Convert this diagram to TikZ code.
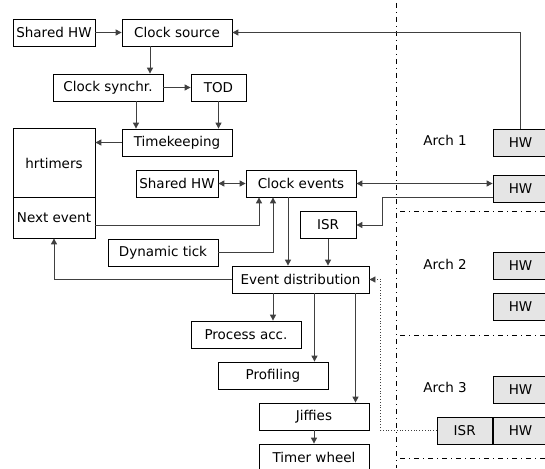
\documentclass[tikz,border=0pt]{standalone}
\usepackage{fontspec}
\setmainfont{DejaVu Sans}
\usetikzlibrary{arrows.meta}
\begin{document}
\begin{tikzpicture}[x=1pt,y=-1pt,>={Triangle[length=6pt,width=6pt]},
  box/.style={draw,line width=0.8pt,minimum height=27pt,inner sep=0pt,font=\fontsize{13.5}{16}\selectfont},
  hwbox/.style={box,fill=black!10,minimum width=55pt},
  con/.style={->,draw=black!75,line width=1pt},
  sep/.style={line width=0.7pt,dash pattern=on 5pt off 4pt on 1pt off 4pt}]
		\useasboundingbox (0,0) rectangle (545,468);
		\node[box,minimum width=82pt] (shw1) at (54,32.5) {Shared HW};
		\node[box,minimum width=110pt] (csrc) at (177,32.5) {Clock source};
		\node[box,minimum width=110pt] (csync) at (108,87.5) {Clock synchr.};
		\node[box,minimum width=55pt] (tod) at (218.5,87.5) {TOD};
		\node[box,minimum width=110pt] (tk) at (177,142.5) {Timekeeping};
		\node[box,minimum width=82pt,minimum height=69pt] (hrt) at (54,163) {hrtimers};
		\node[box,minimum width=82pt,minimum height=41pt] (nev) at (54,217.5) {Next event};
		\node[box,minimum width=82pt] (shw2) at (177,183.5) {Shared HW};
		\node[box,minimum width=110pt] (cev) at (301,183.5) {Clock events};
		\node[box,minimum width=110pt] (dtick) at (163,252.5) {Dynamic tick};
		\node[box,minimum width=56pt] (isr) at (328,225) {ISR};
		\node[box,minimum width=137pt] (evd) at (300.5,279.5) {Event distribution};
		\node[box,minimum width=110pt] (pacc) at (246,334.5) {Process acc.};
		\node[box,minimum width=110pt] (prof) at (273,375.5) {Profiling};
		\node[box,minimum width=110pt] (jif) at (314,416.5) {Jiffies};
		\node[box,minimum width=110pt] (tw) at (314,457.5) {Timer wheel};
		\node[font=\fontsize{13.5}{16}\selectfont] (arch1) at (445,140) {Arch 1};
		\node[font=\fontsize{13.5}{16}\selectfont] (arch2) at (445,264) {Arch 2};
		\node[font=\fontsize{13.5}{16}\selectfont] (arch3) at (445,387) {Arch 3};
		\node[hwbox] (hw1a) at (520.5,142.5) {HW};
		\node[hwbox] (hw1b) at (520.5,189) {HW};
		\node[hwbox] (hw2a) at (520.5,266) {HW};
		\node[hwbox] (hw2b) at (520.5,307) {HW};
		\node[hwbox] (hw3a) at (520.5,389.5) {HW};
		\node[hwbox] (hw3b) at (520.5,430.5) {HW};
		\node[hwbox,anchor=east] (isr3) at (hw3b.west) {ISR};
		\draw [sep] (396,3) -- (396,468);
		\draw [sep] (400,211) -- (545,211);
		\draw [sep] (400,335) -- (545,335);
		\draw [sep] (400,458) -- (545,458);
		\draw [con] (shw1) -- (csrc);
		\draw [con] (hw1a.north) |- (csrc.east);
		\draw [con] ([xshift=-27pt]csrc.south) -- ([xshift=-27pt]csrc.south |- csync.north);
		\draw [con] (csync) -- (tod);
		\draw [con] ([xshift=28pt]csync.south) -- ([xshift=28pt]csync.south |- tk.north);
		\draw [con] (tod.south) -- (tod.south |- tk.north);
		\draw [con] (tk.west) -- (tk.west -| hrt.east);
		\draw [con,<->] (shw2) -- (cev);
		\draw [con,<->] (cev.east) -- (cev.east -| hw1b.west);
		\draw [con] ([yshift=-8.5pt]hw1b.west) -- ++(-110,0) |- (isr.east);
		\draw [con] ([yshift=-7.5pt]nev.east) -| ([xshift=-42pt]cev.south);
		\draw [con] (dtick.east) -| ([xshift=-28pt]cev.south);
		\draw [con] ([xshift=-13pt]cev.south) -- ([xshift=-13pt]cev.south |- evd.north);
		\draw [con] (isr.south) -- (isr.south |- evd.north);
		\draw [con] (evd.west) -| (nev.south);
		\draw [con] ([xshift=-27.5pt]evd.south) -- ([xshift=-27.5pt]evd.south |- pacc.north);
		\draw [con] ([xshift=14pt]evd.south) -- ([xshift=14pt]evd.south |- prof.north);
		\draw [con] ([xshift=55pt]evd.south) -- ([xshift=55pt]evd.south |- jif.north);
		\draw [con] (jif) -- (tw);
		\draw [con,line width=0.8pt,dotted] (isr3.west) -- ++(-56,0) |- (evd.east);
		\end{tikzpicture}
\end{document}
